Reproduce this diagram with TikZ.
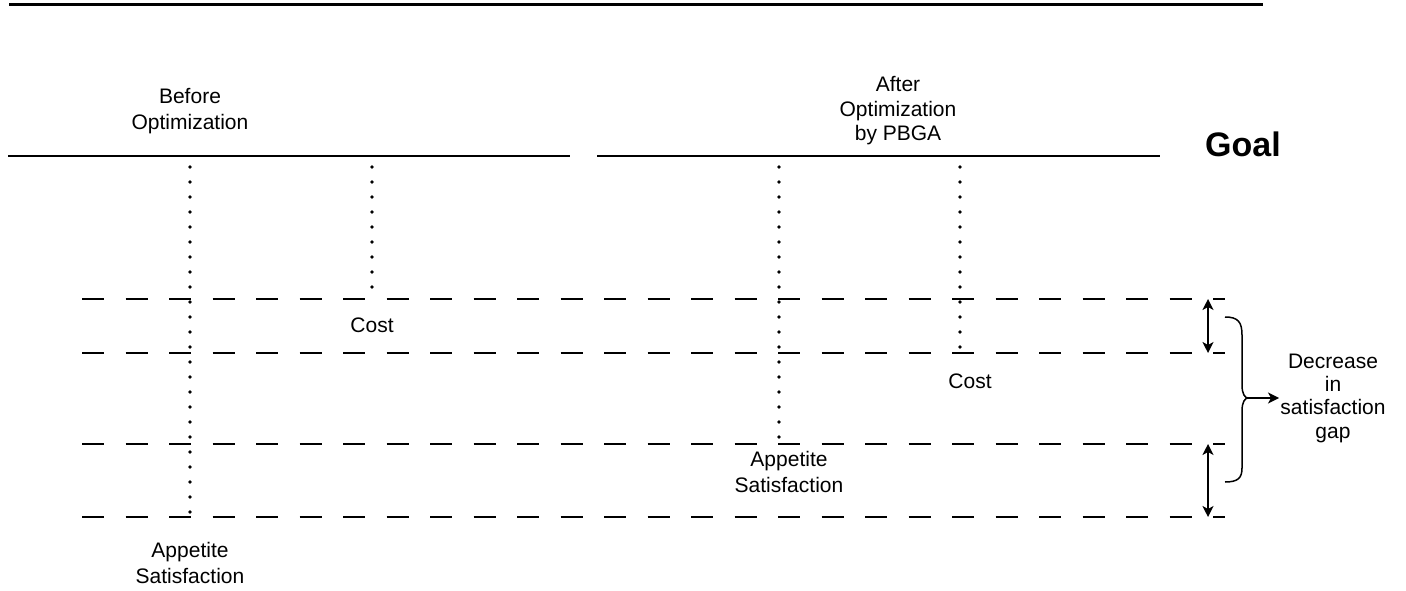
\documentclass[tikz,border=0pt]{standalone}
\usepackage{fontspec}
\setmainfont{Liberation Sans}
\usetikzlibrary{arrows.meta}
\begin{document}
\begin{tikzpicture}[x=1pt,y=-1pt,
  thinline/.style={line width=1.3pt},
  levelline/.style={line width=1.3pt, dash pattern=on 22pt off 21.5pt},
  dotline/.style={line width=3.6pt, line cap=round, dash pattern=on 0pt off 15pt},
  label/.style={font=\fontsize{21}{26}\selectfont, align=center, inner sep=0pt, anchor=base},
  gaparrow/.style={line width=1.5pt, {Stealth[length=11pt,width=11pt,inset=3pt]}-{Stealth[length=11pt,width=11pt,inset=3pt]}},
  outarrow/.style={line width=1.5pt, -{Stealth[length=11pt,width=11pt,inset=3pt]}}
]
\useasboundingbox (0,0) rectangle (1406,591);

% top rule
\coordinate (rl) at (9,5);
\coordinate (rr) at (1263,5);
\draw[line width=3pt] (rl) -- (rr);

% goal lines
\coordinate (g1a) at (8,156);   \coordinate (g1b) at (570,156);
\coordinate (g2a) at (597,156); \coordinate (g2b) at (1160,156);
\draw[thinline] (g1a) -- (g1b);
\draw[thinline] (g2a) -- (g2b);
\node[font=\fontsize{34}{40}\selectfont\bfseries, inner sep=0pt, anchor=base] (goal) at (1243,157) {Goal};

% headings (base anchor sits on the last line)
\node[label] (before) at (190,130) {Before\\Optimization};
\node[label, font=\fontsize{21}{24.5}\selectfont] (after) at (898,141) {After\\Optimization\\by PBGA};

% level lines
\foreach \n/\y in {a/299, b/353, c/444, d/517}{
  \coordinate (L\n) at (82,\y);
  \coordinate (R\n) at (1225,\y);
  \draw[levelline] (L\n) -- (R\n);
}

% dotted bars
\coordinate (d1t) at (190,167); \coordinate (d1b) at (190,517);
\coordinate (d2t) at (372,167); \coordinate (d2b) at (372,299);
\coordinate (d3t) at (779,167); \coordinate (d3b) at (779,444);
\coordinate (d4t) at (960,167); \coordinate (d4b) at (960,353);
\draw[dotline] (d1t) -- (d1b);
\draw[dotline] (d2t) -- (d2b);
\draw[dotline] (d3t) -- (d3b);
\draw[dotline] (d4t) -- (d4b);

% bar labels
\node[label] (cost1) at (372,332) {Cost};
\node[label] (cost2) at (970,388) {Cost};
\node[label] (app1) at (190,583) {Appetite\\Satisfaction};
\node[label] (app2) at (789,492) {Appetite\\Satisfaction};

% gap arrows
\coordinate (ga1) at (1208,299); \coordinate (ga2) at (1208,353);
\coordinate (gb1) at (1208,444); \coordinate (gb2) at (1208,517);
\draw[gaparrow] (ga1) -- (ga2);
\draw[gaparrow] (gb1) -- (gb2);

% brace
\coordinate (bt) at (1225,317);
\coordinate (bb) at (1225,482);
\coordinate (tip) at (1248,398);
\draw[line width=1.5pt] (bt) .. controls (1238,317) and (1242,322) .. (1242,335)
  -- (1242,385) .. controls (1242,394) and (1245,398) .. (tip)
  .. controls (1245,398) and (1242,402) .. (1242,411)
  -- (1242,468) .. controls (1242,478) and (1238,482) .. (bb);

\node[font=\fontsize{21}{23.3}\selectfont, align=center, inner sep=0pt, anchor=base] (gap) at (1333,438) {Decrease\\in\\satisfaction\\gap};
\coordinate (tipend) at (1279,398);
\draw[outarrow] (tip) -- (tipend);
\end{tikzpicture}
\end{document}
